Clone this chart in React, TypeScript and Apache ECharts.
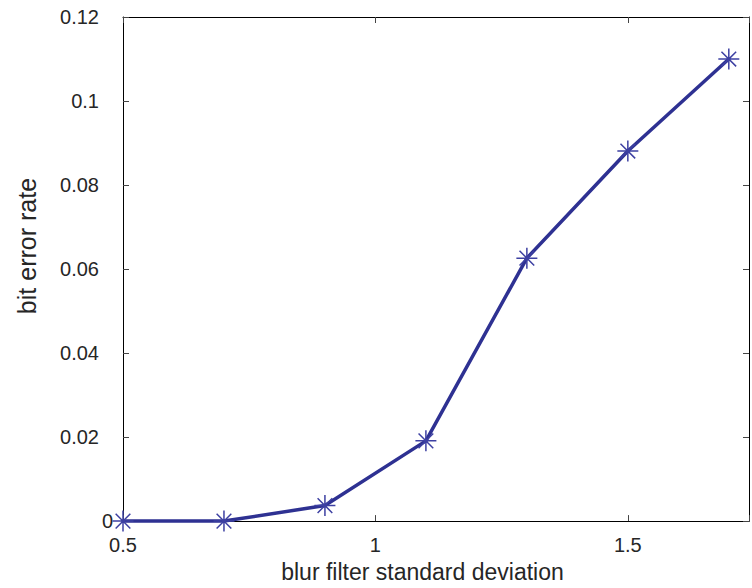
import React, { useEffect, useRef } from "react";
import * as echarts from "echarts";

const xValues = [0.5, 0.7, 0.9, 1.1, 1.3, 1.5, 1.7];
const berValues = [0, 0, 0.0037, 0.0191, 0.0626, 0.0881, 0.11];
const xTickLabels = ["0.5", "1", "1.5"];
const yTickLabels = ["0", "0.02", "0.04", "0.06", "0.08", "0.1", "0.12"];

const FONT = "'Liberation Sans', Arial, Helvetica, sans-serif";
const TEXT = "#262626";
const STAR = "path://M0,-10L0,10M-10,0L10,0M-7,-7L7,7M-7,7L7,-7";

export default function App() {
  const ref = useRef<HTMLDivElement>(null);
  useEffect(() => {
    if (!ref.current) return;
    const chart = echarts.init(ref.current, null, { renderer: "svg" });
    const tickStyle = { show: true, inside: true, length: 6, lineStyle: { color: "#444", width: 1 } };
    const axisLine = { show: true, onZero: false, lineStyle: { color: "#000", width: 1 } };
    chart.setOption({
      animation: false,
      backgroundColor: "#fff",
      grid: { left: 123, top: 17, bottom: 66, right: -2, containLabel: false },
      xAxis: [
        {
          type: "value",
          min: 0.5,
          max: 1.74,
          interval: 0.5,
          position: "bottom",
          axisLine,
          axisTick: tickStyle,
          splitLine: { show: false },
          axisLabel: {
            fontFamily: FONT,
            fontSize: 20,
            color: TEXT,
            margin: 14,
            formatter: (v: number) => {
              const s = String(v);
              return xTickLabels.includes(s) ? s : "";
            },
          },
          name: "blur filter standard deviation",
          nameLocation: "middle",
          nameGap: 38,
          nameTextStyle: { fontFamily: FONT, fontSize: 23, color: TEXT, padding: [0, 27, 0, 0] },
        },
        {
          type: "value",
          min: 0.5,
          max: 1.74,
          interval: 0.5,
          position: "top",
          axisLine,
          axisTick: tickStyle,
          splitLine: { show: false },
          axisLabel: { show: false },
        },
      ],
      yAxis: [
        {
          type: "value",
          min: 0,
          max: 0.12,
          interval: 0.02,
          position: "left",
          axisLine,
          axisTick: tickStyle,
          splitLine: { show: false },
          axisLabel: {
            fontFamily: FONT,
            fontSize: 20,
            color: TEXT,
            margin: 10,
            formatter: (v: number, i: number) => {
              const s = yTickLabels[i] ?? String(v);
              return s === "0" ? "{z|" + s + "}" : "{n|" + s + "}";
            },
            rich: {
              z: { fontFamily: FONT, fontSize: 20, color: TEXT },
              n: { fontFamily: FONT, fontSize: 20, color: TEXT, padding: [0, 14, 0, 0] },
            },
          },
          name: "bit error rate",
          nameLocation: "middle",
          nameGap: 84,
          nameTextStyle: { fontFamily: FONT, fontSize: 25, color: TEXT, padding: [0, 0, 0, 46] },
        },
        {
          type: "value",
          min: 0,
          max: 0.12,
          interval: 0.02,
          position: "right",
          axisLine,
          axisTick: tickStyle,
          splitLine: { show: false },
          axisLabel: { show: false },
        },
      ],
      series: [
        {
          type: "line",
          data: xValues.map((x, i) => [x, berValues[i]]),
          lineStyle: { color: "#2e3192", width: 3.5 },
          symbol: STAR,
          symbolSize: 21,
          showAllSymbol: true,
          itemStyle: { color: "none", borderColor: "#3d40a2", borderWidth: 1.5 },
          z: 3,
          clip: false,
        },
      ],
    });
    return () => chart.dispose();
  }, []);
  return <div ref={ref} style={{ width: 752, height: 588, position: "absolute", left: 0, top: 0 }} />;
}
